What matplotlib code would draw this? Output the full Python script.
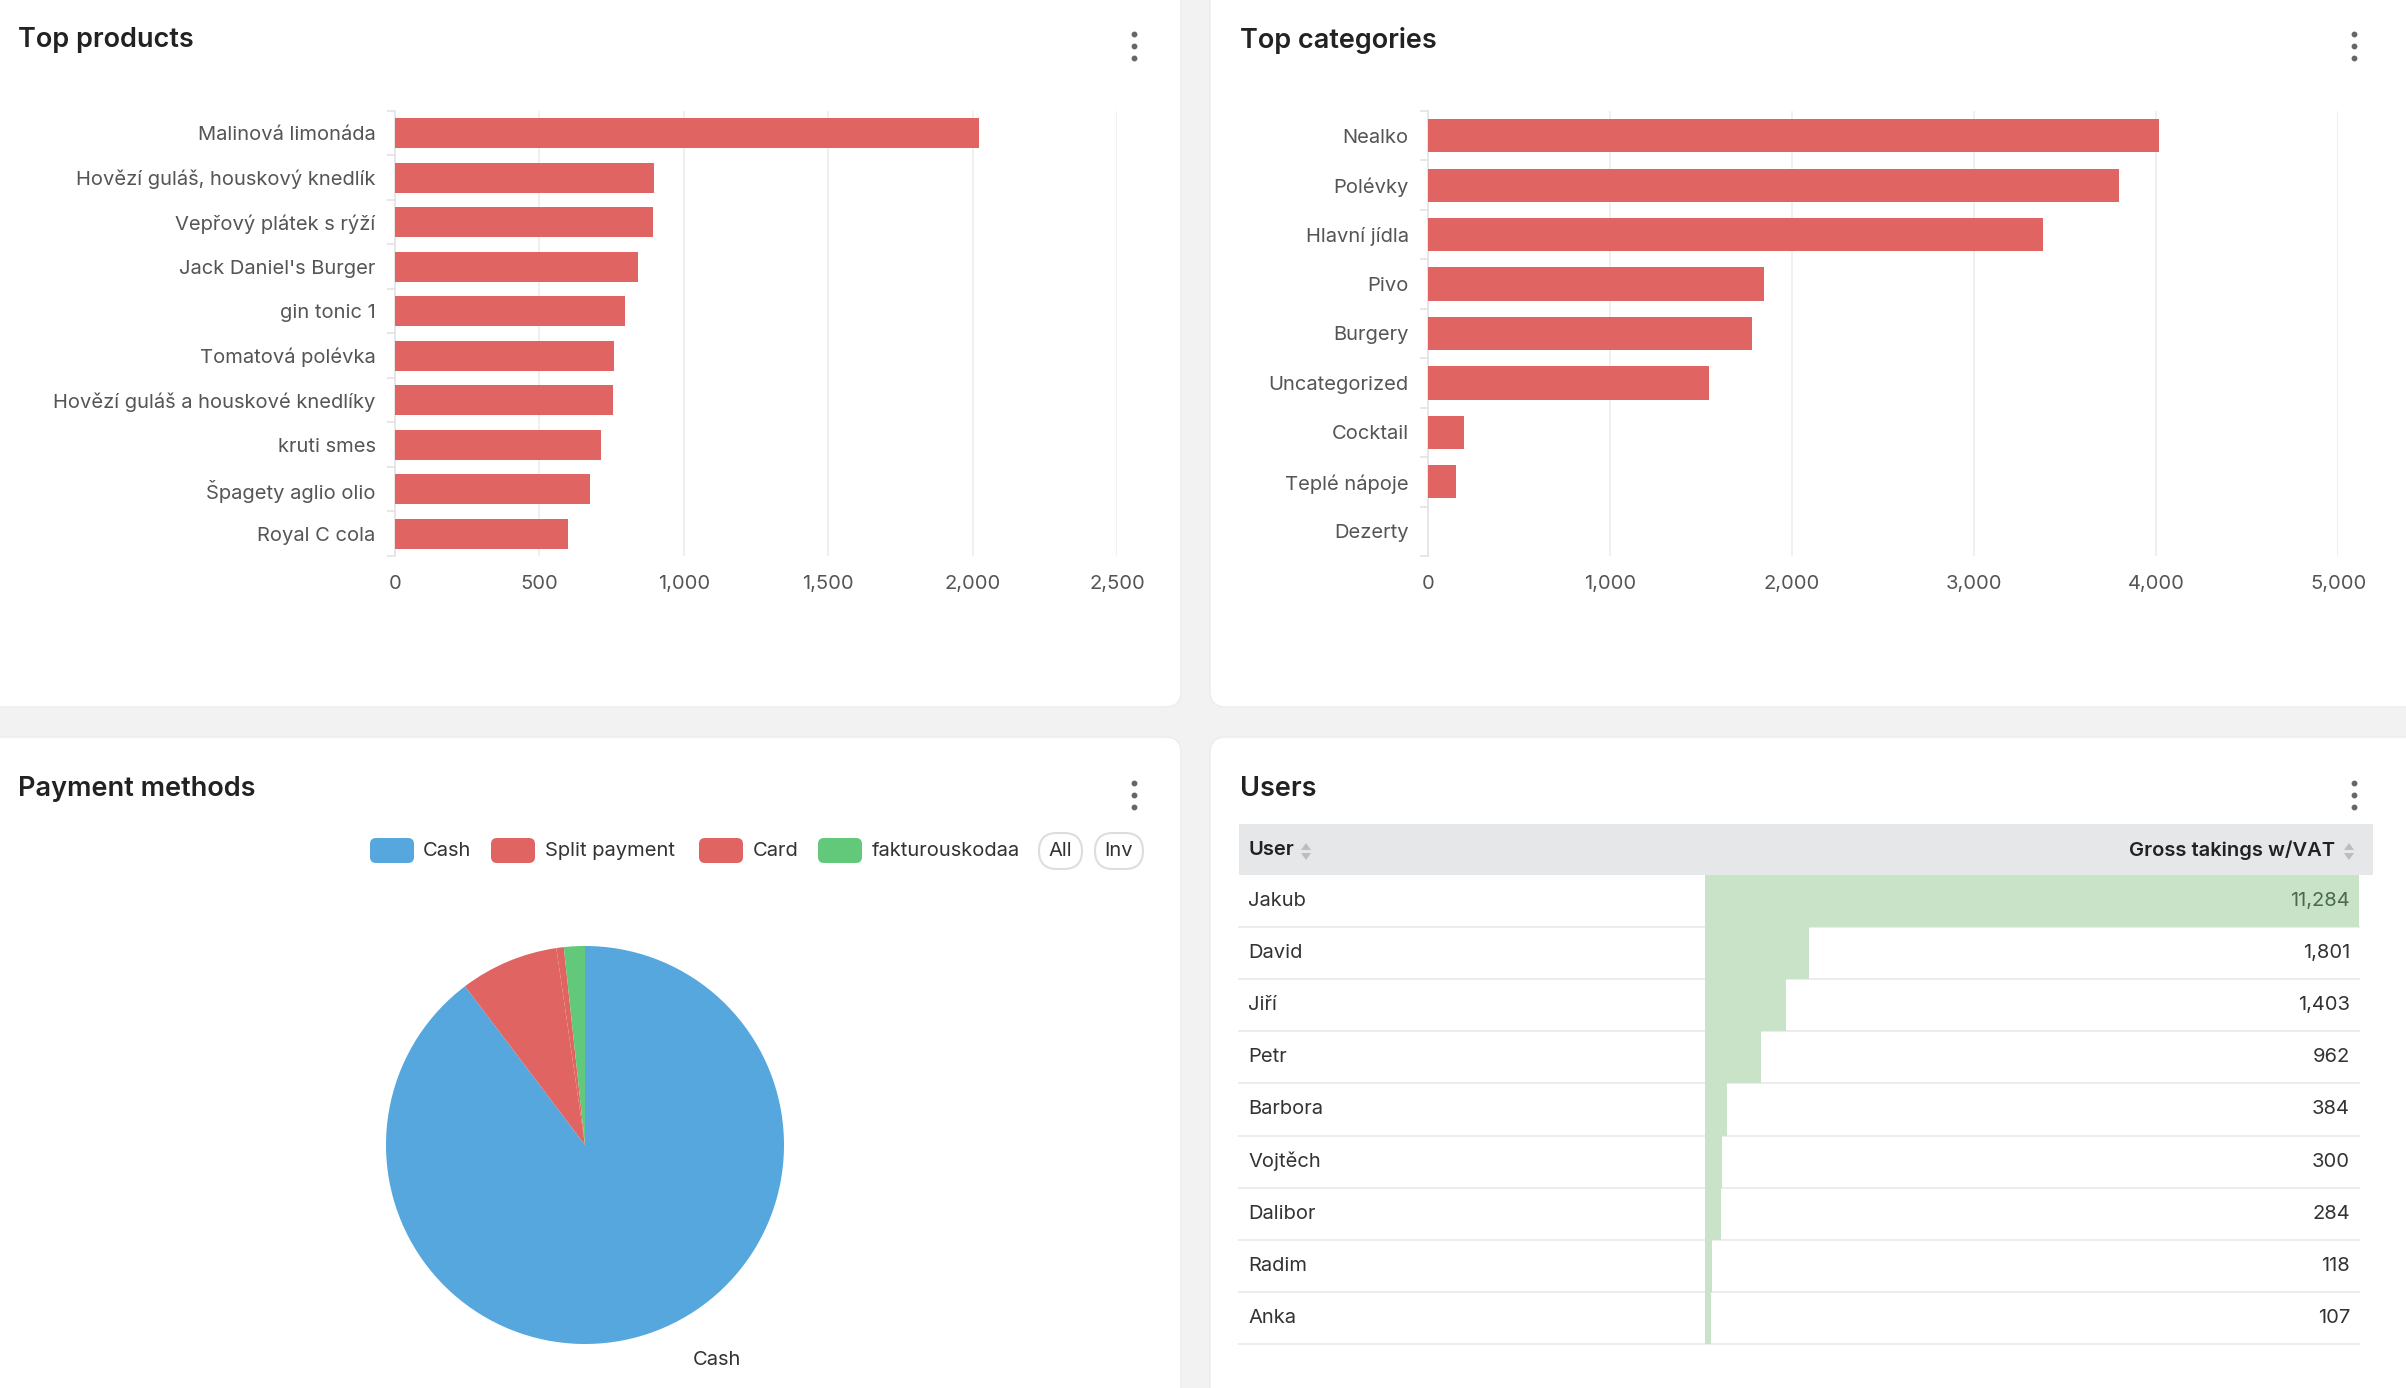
import matplotlib
matplotlib.use("Agg")
import matplotlib.pyplot as plt
import matplotlib.transforms as mtransforms
from matplotlib.patches import FancyBboxPatch, Rectangle, Polygon
import numpy as np

plt.rcParams['font.family'] = ['Inter', 'DejaVu Sans']

# ---- data ----
products = ['Malinová limonáda', 'Hovězí guláš, houskový knedlík', 'Vepřový plátek s rýží',
            "Jack Daniel's Burger", 'gin tonic 1', 'Tomatová polévka',
            'Hovězí guláš a houskové knedlíky', 'kruti smes', 'Špagety aglio olio', 'Royal C cola']
product_values = [2023, 898, 892, 840, 797, 760, 755, 715, 675, 598]
product_ticks = [0, 500, 1000, 1500, 2000, 2500]

categories = ['Nealko', 'Polévky', 'Hlavní jídla', 'Pivo', 'Burgery', 'Uncategorized',
              'Cocktail', 'Teplé nápoje', 'Dezerty']
category_values = [4019, 3795, 3377, 1847, 1779, 1543, 199, 156, 2]
category_ticks = [0, 1000, 2000, 3000, 4000, 5000]

pay_methods = ['Cash', 'Split payment', 'Card', 'fakturouskodaa']
pay_share = [89.7, 8.0, 0.6, 1.7]
pay_colors = ['#55A7DE', '#E06461', '#E06461', '#62C87A']

users = ['Jakub', 'David', 'Jiří', 'Petr', 'Barbora', 'Vojtěch', 'Dalibor', 'Radim', 'Anka']
user_takings = [11284, 1801, 1403, 962, 384, 300, 284, 118, 107]

W, H = 2406, 1388
BAR = '#E06461'
TXT = '#555555'
fig = plt.figure(figsize=(W / 100, H / 100), dpi=100)
fig.patch.set_facecolor('#f2f2f3')

bg = fig.add_axes([0, 0, 1, 1])
bg.set_xlim(0, W)
bg.set_ylim(H, 0)
bg.axis('off')


def px_axes(x0, y0, x1, y1):
    return fig.add_axes([x0 / W, 1 - y1 / H, (x1 - x0) / W, (y1 - y0) / H])


# cards
for (x0, y0, x1, y1) in [(-30, -30, 1181, 707), (1210, -30, 2436, 707),
                         (-30, 737, 1181, 1420), (1210, 737, 2436, 1420)]:
    bg.add_patch(FancyBboxPatch((x0, y0), x1 - x0, y1 - y0,
                                boxstyle='round,pad=0,rounding_size=16',
                                fc='white', ec='#ececed', lw=1))

# titles and menu dots
for (tx, ty, title, dx) in [(18, 40, 'Top products', 1134), (1240, 40, 'Top categories', 2354),
                            (18, 789, 'Payment methods', 1134), (1240, 789, 'Users', 2354)]:
    bg.text(tx, ty, title, fontsize=19.5, fontweight='semibold', color='#222222',
            ha='left', va='center')
    for dy in (-12, 0, 12):
        bg.plot(dx, ty + 6 + dy, 'o', ms=3.2, color='#666666')


def bar_panel(ax, labels, values, ticks):
    pos = np.arange(len(labels))
    ax.barh(pos, values, height=0.67, color=BAR, zorder=3)
    ax.set_ylim(len(labels) - 0.5, -0.5)
    ax.set_xlim(ticks[0], ticks[-1])
    ax.set_xticks(ticks)
    ax.set_xticklabels([f'{t:,}' for t in ticks])
    ax.set_yticks(pos)
    ax.set_yticklabels(labels)
    ax.set_yticks(np.arange(len(labels) + 1) - 0.5, minor=True)
    ax.tick_params(axis='y', which='major', length=0, pad=14, labelsize=14.5, labelcolor=TXT)
    ax.tick_params(axis='y', which='minor', length=6, color='#e3e3e3', width=1.2)
    ax.tick_params(axis='x', length=0, pad=14, labelsize=14.5, labelcolor=TXT)
    ax.grid(axis='x', color='#eeeeee', lw=1.2, zorder=0)
    for s in ['top', 'right', 'bottom']:
        ax.spines[s].set_visible(False)
    ax.spines['left'].set_color('#e3e3e3')
    ax.spines['left'].set_linewidth(1.2)
    ax.set_facecolor('none')


ax1 = px_axes(395, 111, 1117, 556)
bar_panel(ax1, products, product_values, product_ticks)
ax2 = px_axes(1428, 111, 2338, 556)
bar_panel(ax2, categories, category_values, category_ticks)

# pie
cx, cy, r = 585, 1145, 199
pax = px_axes(cx - 1.2 * r, cy - 1.2 * r, cx + 1.2 * r, cy + 1.2 * r)
wedges, texts = pax.pie(pay_share, colors=pay_colors, startangle=90, counterclock=False,
                        labels=['Cash', '', '', ''], labeldistance=1.14,
                        textprops=dict(fontsize=14.5, color='#333333'))
for t in texts:
    x, y = t.get_position()
    t.set_position((x + 0.18, y))
pax.set_xlim(-1.2, 1.2)
pax.set_ylim(-1.2, 1.2)

# legend
leg_items = [(370, 423), (491, 545), (699, 753), (818, 872)]
for (bx, tx), name, col in zip(leg_items, pay_methods, pay_colors):
    bg.add_patch(FancyBboxPatch((bx, 838), 44, 25, boxstyle='round,pad=0,rounding_size=6',
                                fc=col, ec='none'))
    bg.text(tx, 851, name, fontsize=14.5, color='#333333', ha='left', va='center')
for (px0, px1, lab) in [(1039, 1082, 'All'), (1095, 1143, 'Inv')]:
    bg.add_patch(FancyBboxPatch((px0, 833), px1 - px0, 36, boxstyle='round,pad=0,rounding_size=18',
                                fc='white', ec='#dddddd', lw=1.5))
    bg.text((px0 + px1) / 2, 851, lab, fontsize=14.5, color='#333333', ha='center', va='center')

# users table
bg.add_patch(Rectangle((1239, 824), 2373 - 1239, 51, fc='#e6e7e9', ec='none'))
bg.text(1248, 850, 'User', fontsize=14.5, fontweight='semibold', color='#222222', va='center')
bg.text(2335, 850, 'Gross takings w/VAT', fontsize=14.5, fontweight='semibold', color='#222222',
        va='center', ha='right')
for ax_x in (1306, 2349):
    bg.add_patch(Polygon([[ax_x - 5, 850], [ax_x + 5, 850], [ax_x, 843]], fc='#bdbdbd', ec='none'))
    bg.add_patch(Polygon([[ax_x - 5, 853], [ax_x + 5, 853], [ax_x, 860]], fc='#bdbdbd', ec='none'))

row_h = 52.1
tbl_top = 875
tax = px_axes(1705, tbl_top, 2359, tbl_top + row_h * len(users))
rows = np.arange(len(users))
tax.barh(rows, user_takings, height=1.0, align='edge', color='#C8E3C8', zorder=2)
tax.set_xlim(0, max(user_takings))
tax.set_ylim(len(users), 0)
tax.axis('off')
tax.axvline(0, color='#e6e6e6', lw=3, zorder=1)

trans = mtransforms.blended_transform_factory(bg.transData, tax.transData)
for i, (name, val) in enumerate(zip(users, user_takings)):
    bg.plot([1239, 2359], [tbl_top + row_h * (i + 1)] * 2, color='#ebebeb', lw=1.3, zorder=1)
    tax.text(1248, i + 0.5, name, transform=trans, fontsize=14.5, color='#333333',
             ha='left', va='center', clip_on=False)
    tax.text(2350, i + 0.5, f'{val:,}', transform=trans, fontsize=14.5,
             color='#4a6a4a' if i == 0 else '#333333', ha='right', va='center', clip_on=False)

fig.savefig('out.png', dpi=100, facecolor=fig.get_facecolor())
